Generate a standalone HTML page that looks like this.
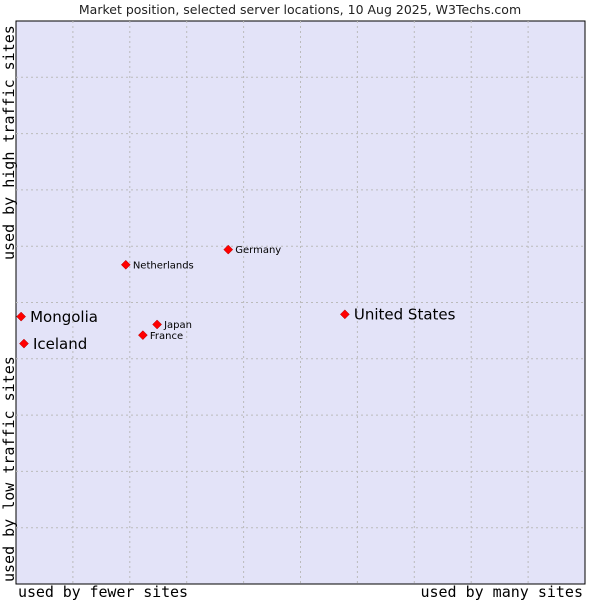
<!DOCTYPE html>
<html><head><meta charset="utf-8"><style>
body{margin:0;background:#fff;}
svg{display:block;font-family:"DejaVu Sans","Liberation Sans",sans-serif;}
.mono{font-family:"DejaVu Sans Mono","Liberation Mono",monospace;}
</style></head><body>
<svg id="chart" width="600" height="600">
<text x="300" y="14" text-anchor="middle" font-size="12.5" fill="#222">Market position, selected server locations, 10 Aug 2025, W3Techs.com</text>
<rect x="16" y="21" width="569" height="563" fill="#e3e3f8" stroke="#000" stroke-width="1"/>
<g id="grid"></g>
<g id="points"></g>
<text class="mono" x="18" y="597" font-size="15" textLength="170" fill="#000">used by fewer sites</text>
<text class="mono" x="583" y="597" font-size="15" text-anchor="end" fill="#000">used by many sites</text>
<text class="mono" transform="translate(14,582) rotate(-90)" font-size="15" fill="#000">used by low traffic sites</text>
<text class="mono" transform="translate(14,260) rotate(-90)" font-size="15" fill="#000">used by high traffic sites</text>
</svg>
<script>
const countries = ["Mongolia","Iceland","Netherlands","Germany","Japan","France","United States"];
const xValues = [0.9,1.4,19.3,37.3,24.8,22.3,57.8];
const yValues = [47.5,42.7,56.7,59.4,46.1,44.2,47.9];
const labelSizes = [15,15,10,10,10,10,15];
const gridTicks = [10,20,30,40,50,60,70,80,90];
const L=16,R=585,T=21,B=584;
const sx=v=>L+v/100*(R-L);
const sy=v=>B-v/100*(B-T);
const NS="http://www.w3.org/2000/svg";
const grid=document.getElementById('grid');
gridTicks.forEach(t=>{
  const v=document.createElementNS(NS,'line');
  v.setAttribute('x1',sx(t));v.setAttribute('x2',sx(t));v.setAttribute('y1',T);v.setAttribute('y2',B);
  v.setAttribute('stroke','#bbb');v.setAttribute('stroke-dasharray','2,3');
  
  
  grid.appendChild(v);
  const h=document.createElementNS(NS,'line');
  h.setAttribute('y1',sy(t));h.setAttribute('y2',sy(t));h.setAttribute('x1',L);h.setAttribute('x2',R);
  h.setAttribute('stroke','#bbb');h.setAttribute('stroke-dasharray','2,3');
  
  
  grid.appendChild(h);
});
const pts=document.getElementById('points');
countries.forEach((c,i)=>{
  const x=sx(xValues[i]),y=sy(yValues[i]);
  const d=document.createElementNS(NS,'path');
  d.setAttribute('d',`M${x} ${y-4.5}L${x+4.5} ${y}L${x} ${y+4.5}L${x-4.5} ${y}Z`);
  d.setAttribute('fill','#f00');d.setAttribute('stroke','#a00');d.setAttribute('stroke-width','0.5');
  
  
  pts.appendChild(d);
  const t=document.createElementNS(NS,'text');
  t.setAttribute('x',x+(labelSizes[i]>12?9:7));t.setAttribute('y',y+labelSizes[i]*0.36);
  t.setAttribute('font-size',labelSizes[i]);t.setAttribute('fill','#000');
  t.textContent=c;
  
  
  pts.appendChild(t);
});
</script>
</body></html>
